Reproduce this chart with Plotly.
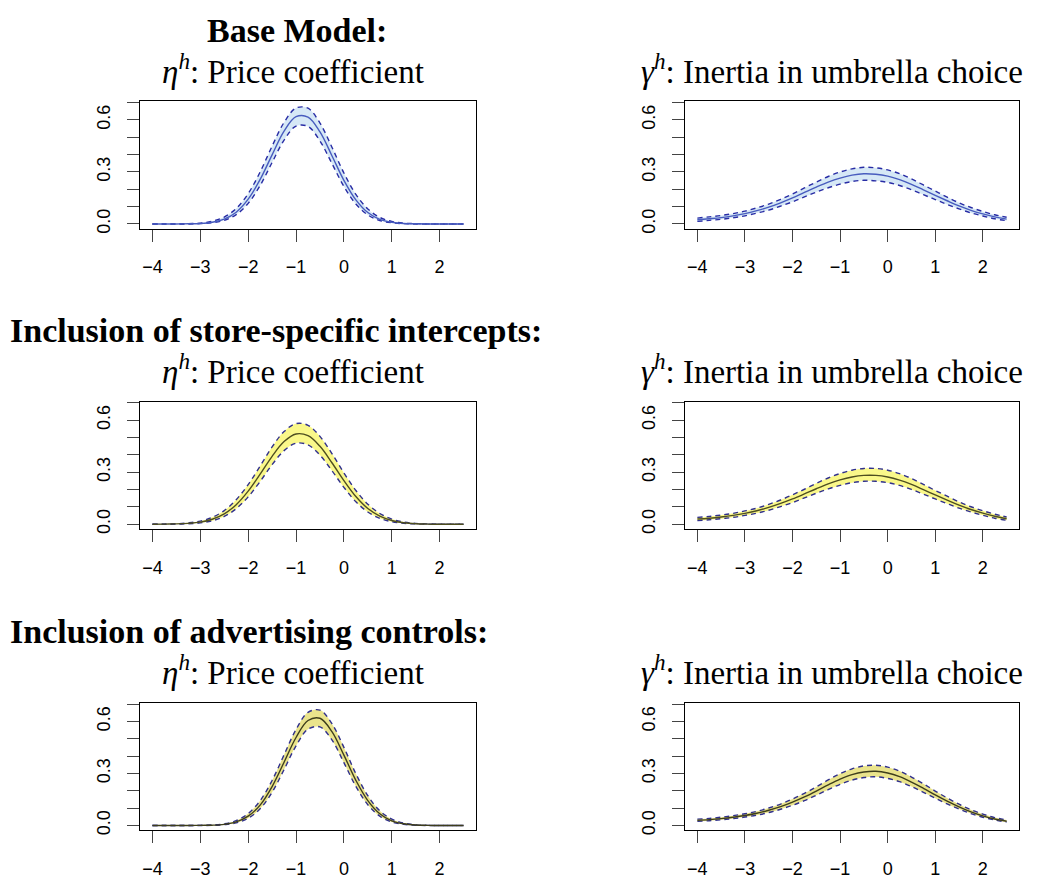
import plotly.graph_objects as go

W, H = 1047, 879

X = [-4.0, -3.75, -3.5, -3.25, -3.0, -2.75, -2.5, -2.25, -2.0, -1.75, -1.5, -1.25, -1.0,
     -0.75, -0.5, -0.25, 0.0, 0.25, 0.5, 0.75, 1.0, 1.25, 1.5, 1.75, 2.0, 2.25, 2.5]

# Base model
base_eta_mean = [0.000, 0.000, 0.000, 0.001, 0.003, 0.010, 0.028, 0.068, 0.143, 0.257, 0.399, 0.536, 0.619,
                 0.617, 0.531, 0.394, 0.252, 0.139, 0.066, 0.027, 0.010, 0.003, 0.001, 0.000, 0.000, 0.000, 0.000]
base_eta_up = [0.000, 0.000, 0.000, 0.002, 0.005, 0.016, 0.040, 0.089, 0.175, 0.300, 0.449, 0.586, 0.669,
               0.668, 0.582, 0.443, 0.294, 0.171, 0.087, 0.038, 0.015, 0.005, 0.002, 0.000, 0.000, 0.000, 0.000]
base_eta_lo = [0.000, 0.000, 0.000, 0.000, 0.002, 0.007, 0.021, 0.054, 0.119, 0.222, 0.355, 0.484, 0.565,
               0.563, 0.479, 0.349, 0.217, 0.115, 0.052, 0.020, 0.007, 0.002, 0.000, 0.000, 0.000, 0.000, 0.000]
base_gam_mean = [0.024, 0.030, 0.037, 0.047, 0.060, 0.077, 0.097, 0.122, 0.150, 0.182, 0.213, 0.242, 0.265,
                 0.282, 0.290, 0.287, 0.276, 0.256, 0.229, 0.197, 0.165, 0.134, 0.104, 0.079, 0.058, 0.041, 0.028]
base_gam_up = [0.034, 0.041, 0.049, 0.060, 0.074, 0.093, 0.115, 0.142, 0.173, 0.208, 0.242, 0.274, 0.300,
               0.318, 0.327, 0.324, 0.312, 0.290, 0.260, 0.225, 0.190, 0.155, 0.122, 0.095, 0.072, 0.053, 0.039]
base_gam_lo = [0.015, 0.021, 0.027, 0.036, 0.047, 0.063, 0.080, 0.103, 0.128, 0.156, 0.184, 0.209, 0.230,
               0.245, 0.252, 0.249, 0.240, 0.222, 0.198, 0.169, 0.141, 0.113, 0.087, 0.064, 0.046, 0.030, 0.019]

# Store-specific intercepts
store_eta_mean = [0.000, 0.001, 0.002, 0.005, 0.012, 0.029, 0.060, 0.113, 0.191, 0.289, 0.392, 0.477, 0.521,
                  0.511, 0.450, 0.355, 0.252, 0.160, 0.091, 0.047, 0.022, 0.009, 0.003, 0.001, 0.000, 0.000, 0.000]
store_eta_up = [0.000, 0.001, 0.003, 0.008, 0.018, 0.040, 0.079, 0.142, 0.229, 0.336, 0.446, 0.535, 0.581,
                0.571, 0.507, 0.408, 0.296, 0.195, 0.116, 0.062, 0.030, 0.013, 0.005, 0.002, 0.001, 0.000, 0.000]
store_eta_lo = [0.000, 0.000, 0.001, 0.003, 0.008, 0.020, 0.045, 0.090, 0.158, 0.247, 0.344, 0.425, 0.468,
                0.458, 0.399, 0.309, 0.213, 0.130, 0.071, 0.034, 0.015, 0.006, 0.002, 0.001, 0.000, 0.000, 0.000]
store_gam_mean = [0.030, 0.035, 0.042, 0.051, 0.063, 0.078, 0.097, 0.120, 0.146, 0.175, 0.205, 0.233, 0.256,
                  0.273, 0.282, 0.282, 0.273, 0.255, 0.230, 0.200, 0.169, 0.139, 0.110, 0.085, 0.064, 0.046, 0.032]
store_gam_up = [0.040, 0.045, 0.053, 0.063, 0.077, 0.093, 0.115, 0.140, 0.170, 0.202, 0.236, 0.267, 0.293,
                0.312, 0.322, 0.322, 0.312, 0.292, 0.264, 0.230, 0.195, 0.162, 0.129, 0.101, 0.078, 0.058, 0.042]
store_gam_lo = [0.021, 0.026, 0.032, 0.040, 0.051, 0.064, 0.081, 0.102, 0.125, 0.152, 0.179, 0.204, 0.224,
                0.240, 0.248, 0.248, 0.240, 0.224, 0.201, 0.174, 0.146, 0.119, 0.093, 0.071, 0.052, 0.035, 0.023]

# Advertising controls
adv_eta_mean = [0.000, 0.000, 0.000, 0.000, 0.001, 0.002, 0.007, 0.021, 0.054, 0.118, 0.225, 0.365, 0.508,
                0.606, 0.619, 0.542, 0.406, 0.261, 0.144, 0.068, 0.027, 0.010, 0.003, 0.001, 0.000, 0.000, 0.000]
adv_eta_up = [0.000, 0.000, 0.000, 0.000, 0.001, 0.003, 0.010, 0.028, 0.069, 0.143, 0.260, 0.408, 0.554,
              0.653, 0.666, 0.588, 0.451, 0.299, 0.172, 0.085, 0.037, 0.014, 0.004, 0.001, 0.000, 0.000, 0.000]
adv_eta_lo = [0.000, 0.000, 0.000, 0.000, 0.000, 0.001, 0.005, 0.015, 0.042, 0.097, 0.192, 0.323, 0.460,
              0.556, 0.569, 0.494, 0.363, 0.226, 0.120, 0.054, 0.020, 0.007, 0.002, 0.000, 0.000, 0.000, 0.000]
adv_gam_mean = [0.030, 0.034, 0.040, 0.048, 0.058, 0.071, 0.088, 0.109, 0.135, 0.165, 0.199, 0.235, 0.268,
                0.294, 0.309, 0.313, 0.303, 0.282, 0.251, 0.215, 0.177, 0.141, 0.108, 0.079, 0.056, 0.038, 0.025]
adv_gam_up = [0.037, 0.041, 0.048, 0.057, 0.068, 0.082, 0.101, 0.124, 0.153, 0.186, 0.223, 0.263, 0.299,
              0.327, 0.344, 0.348, 0.337, 0.314, 0.280, 0.241, 0.199, 0.159, 0.123, 0.091, 0.066, 0.046, 0.032]
adv_gam_lo = [0.024, 0.028, 0.033, 0.040, 0.049, 0.060, 0.075, 0.094, 0.117, 0.144, 0.175, 0.207, 0.238,
              0.262, 0.277, 0.281, 0.272, 0.253, 0.225, 0.192, 0.158, 0.125, 0.095, 0.069, 0.048, 0.032, 0.020]

X_TICKS = [-4, -3, -2, -1, 0, 1, 2]
Y_TICKS = [0.0, 0.3, 0.6]
Y_TICKTEXT = ["0.0", "0.3", "0.6"]
Y_MINOR = [0.1, 0.2, 0.4, 0.5, 0.7]

row_headers = ["Base Model:", "Inclusion of store-specific intercepts:", "Inclusion of advertising controls:"]
eta_title = "<i>η</i><sup><i>h</i></sup>: Price coefficient"
gam_title = "<i>γ</i><sup><i>h</i></sup>: Inertia in umbrella choice"

panels = [
    (base_eta_mean, base_eta_up, base_eta_lo),
    (base_gam_mean, base_gam_up, base_gam_lo),
    (store_eta_mean, store_eta_up, store_eta_lo),
    (store_gam_mean, store_gam_up, store_gam_lo),
    (adv_eta_mean, adv_eta_up, adv_eta_lo),
    (adv_gam_mean, adv_gam_up, adv_gam_lo),
]

row_styles = [
    dict(fill="rgb(214,232,246)", mean="rgb(72,92,190)", dash="rgb(40,44,165)"),
    dict(fill="rgb(250,248,138)", mean="rgb(78,78,32)", dash="rgb(48,48,140)"),
    dict(fill="rgb(234,228,140)", mean="rgb(62,62,28)", dash="rgb(48,48,140)"),
]

# pixel layout of plot boxes
col_px = [(140, 476), (685, 1019)]
row_px = [(102, 230), (404, 532), (707, 835)]

fig = go.Figure()
layout = dict(
    width=W, height=H, margin=dict(l=0, r=0, t=0, b=0),
    paper_bgcolor="white", plot_bgcolor="white", showlegend=False, hovermode=False,
)

tick_font = dict(family="Liberation Sans, Arial, sans-serif", size=18, color="black")

for i, (mean, up, lo) in enumerate(panels):
    r, c = divmod(i, 2)
    st = row_styles[r]
    n = i + 1
    xa = "x" if n == 1 else f"x{n}"
    ya = "y" if n == 1 else f"y{n}"
    fig.add_trace(go.Scatter(x=X, y=up, mode="lines", xaxis=xa, yaxis=ya,
                             line=dict(color=st["dash"], width=1.4, dash="5px,4px", shape="spline"),
                             hoverinfo="skip"))
    fig.add_trace(go.Scatter(x=X, y=lo, mode="lines", xaxis=xa, yaxis=ya, fill="tonexty",
                             fillcolor=st["fill"],
                             line=dict(color=st["dash"], width=1.4, dash="5px,4px", shape="spline"),
                             hoverinfo="skip"))
    fig.add_trace(go.Scatter(x=X, y=mean, mode="lines", xaxis=xa, yaxis=ya,
                             line=dict(color=st["mean"], width=1.4, shape="spline"),
                             hoverinfo="skip"))
    x0, x1 = col_px[c]
    y0, y1 = row_px[r]
    common = dict(showgrid=False, zeroline=False, showline=True, mirror=True, linecolor="black",
                  linewidth=1, ticks="outside", ticklen=12, tickwidth=1, tickcolor="#444",
                  tickfont=tick_font)
    layout["xaxis" if n == 1 else f"xaxis{n}"] = dict(
        domain=[x0 / W, x1 / W], range=[-4.26, 2.76], anchor=ya,
        tickmode="array", tickvals=X_TICKS, ticklabelstandoff=10, **common)
    layout["yaxis" if n == 1 else f"yaxis{n}"] = dict(
        domain=[1 - y1 / H, 1 - y0 / H], range=[-0.0272, 0.7072], anchor=xa,
        tickmode="array", tickvals=Y_TICKS, ticktext=Y_TICKTEXT, tickangle=-90,
        minor=dict(tickmode="array", tickvals=Y_MINOR, ticks="outside", ticklen=12,
                   tickwidth=1, tickcolor="#444", showgrid=False),
        ticklabelstandoff=10, **common)

title_font = dict(family="Liberation Serif, Times New Roman, serif", size=33, color="black")
bold_font = dict(family="Liberation Serif, Times New Roman, serif", size=34, color="black")

ann = []
def add_ann(text, xpx, ypx, font, xanchor="center"):
    ann.append(dict(text=text, x=xpx / W, y=1 - ypx / H, xref="paper", yref="paper",
                    xanchor=xanchor, yanchor="middle", showarrow=False, font=font))

add_ann("<b>" + row_headers[0] + "</b>", 297, 31, bold_font)
add_ann("<b>" + row_headers[1] + "</b>", 8, 332, bold_font, "left")
add_ann("<b>" + row_headers[2] + "</b>", 8, 635, bold_font, "left")
for r in range(3):
    off = [0, 302, 605][r]
    add_ann(eta_title, 293, 69 + off, title_font)
    add_ann(gam_title, 639, 69 + off, title_font, "left")

layout["annotations"] = ann
fig.update_layout(**layout)
fig.write_html("out.html")
